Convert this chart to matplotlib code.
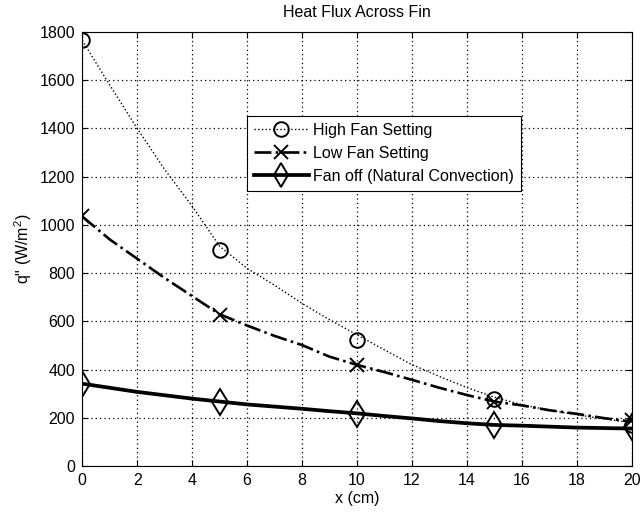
import numpy as np
import matplotlib
matplotlib.use('Agg')
import matplotlib.pyplot as plt
from matplotlib.lines import Line2D

# measured points
x_pts = [0, 5, 10, 15, 20]
high_pts = [1765, 895, 522, 280, 172]
low_pts = [1035, 625, 418, 267, 192]
off_pts = [340, 267, 218, 170, 162]

# curves
x_line = list(range(0, 21))
high_line = [1765, 1580, 1400, 1230, 1078, 912, 820, 750, 675, 607, 545,
             482, 421, 372, 326, 286, 255, 232, 213, 196, 180]
low_line = [1035, 940, 860, 780, 705, 630, 583, 540, 502, 454, 420,
            390, 358, 325, 295, 268, 252, 232, 217, 199, 185]
off_line = [342, 325, 308, 294, 280, 268, 256, 247, 238, 228, 219,
            208, 198, 187, 178, 171, 168, 164, 160, 158, 156]

labels = ['High Fan Setting', 'Low Fan Setting', 'Fan off (Natural Convection)']

plt.rcParams['font.family'] = ['Liberation Sans', 'DejaVu Sans']
plt.rcParams['font.size'] = 11.5
plt.rcParams['mathtext.fontset'] = 'custom'
plt.rcParams['mathtext.rm'] = 'Liberation Sans'

fig = plt.figure(figsize=(6.42, 5.14), dpi=100)
ax = fig.add_axes([0.128, 0.093, 0.856, 0.845])

ax.plot(x_line, high_line, color='k', ls=':', lw=1.0)
ax.plot(x_line, low_line, color='k', ls='-.', lw=1.9)
ax.plot(x_line, off_line, color='k', ls='-', lw=2.7)

mk = dict(color='k', ls='none', mfc='none', mew=1.4)
ax.plot(x_pts, high_pts, marker='o', ms=10.5, **mk)
ax.plot(x_pts, low_pts, marker='x', ms=10, **mk)
ax.plot(x_pts, off_pts, marker='d', ms=13, **mk)

ax.set_xlim(0, 20)
ax.set_ylim(0, 1800)
ax.set_xticks(range(0, 21, 2))
ax.set_yticks(range(0, 1801, 200))
ax.grid(True, color='k', ls=(0, (1, 2.5)), lw=0.9)
ax.tick_params(direction='in', top=True, right=True, length=4, colors='k', pad=5)
for s in ax.spines.values():
    s.set_linewidth(0.8)

ax.set_title('Heat Flux Across Fin', fontsize=11.5, pad=11)
ax.set_xlabel('x (cm)', labelpad=2)
ax.set_ylabel('q" (W/m$^2$)', labelpad=4)

handles = [
    Line2D([], [], color='k', ls=':', lw=1.0, marker='o', mfc='none', mew=1.4, ms=10.5),
    Line2D([], [], color='k', ls='-.', lw=1.9, marker='x', mew=1.4, ms=10),
    Line2D([], [], color='k', ls='-', lw=2.7, marker='d', mfc='none', mew=1.4, ms=12),
]
leg = ax.legend(handles, labels, loc='upper left', bbox_to_anchor=(0.30, 0.807),
                numpoints=1, fancybox=False, framealpha=1, edgecolor='k',
                handlelength=3.4, borderpad=0.45, labelspacing=0.5,
                handletextpad=0.3, borderaxespad=0)
leg.get_frame().set_linewidth(0.8)

fig.savefig('out.png', dpi=100)
